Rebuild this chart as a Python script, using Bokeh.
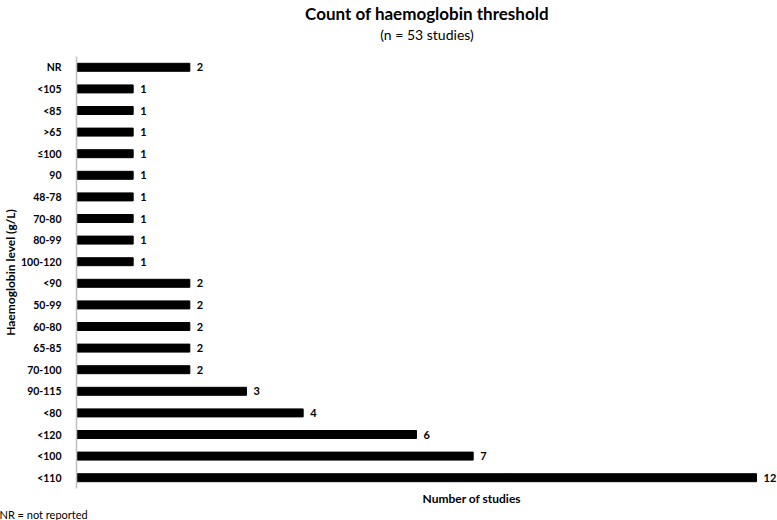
from bokeh.plotting import figure
from bokeh.models import ColumnDataSource, FactorRange, Range1d, Title
from bokeh.core.properties import value
from bokeh.embed import file_html
from bokeh.resources import INLINE

categories = ["NR", "<105", "<85", ">65", "≤100", "90", "48-78", "70-80", "80-99", "100-120",
              "<90", "50-99", "60-80", "65-85", "70-100", "90-115", "<80", "<120", "<100", "<110"]
counts = [2, 1, 1, 1, 1, 1, 1, 1, 1, 1, 2, 2, 2, 2, 2, 3, 4, 6, 7, 12]

title_text = "Count of haemoglobin threshold"
subtitle_text = "(n = 53 studies)"
x_title = "Number of studies"
y_title = "Haemoglobin level (g/L)"
note_text = "NR = not reported"

FONT = "Lato"
factors = categories[::-1]
src = ColumnDataSource(dict(cat=categories, n=counts, lbl=[str(c) for c in counts]))

p = figure(width=777, height=520, y_range=FactorRange(factors=factors),
           x_range=Range1d(0, 12.37), output_backend="svg", toolbar_location=None,
           min_border_left=75, min_border_right=0, min_border_top=54, min_border_bottom=24)
p.hbar(y="cat", right="n", left=0, height=0.37, source=src, color="black")
p.text(x="n", y="cat", text="lbl", source=src, x_offset=7, text_baseline="middle",
       text_font=value(FONT), text_font_style="bold", text_font_size="11px", text_color="black")

p.outline_line_color = None
p.grid.visible = False
p.xaxis.visible = False
ax = p.yaxis[0]
ax.axis_line_color = "#c0c0c0"
ax.axis_line_width = 1.5
ax.major_tick_line_color = None
ax.minor_tick_line_color = None
ax.major_label_text_font = FONT
ax.major_label_text_font_style = "bold"
ax.major_label_text_font_size = "10.5px"
ax.major_label_text_color = "black"
ax.major_label_standoff = 9
ax.axis_label = y_title
ax.axis_label_text_font = FONT
ax.axis_label_text_font_style = "bold"
ax.axis_label_text_font_size = "12px"
ax.axis_label_text_color = "black"
ax.axis_label_standoff = 0

# above: first added sits closest to the frame (an empty spacer first)
p.add_layout(Title(text=" ", text_font_size="2px", standoff=10), "above")
p.add_layout(Title(text=subtitle_text, align="center", text_font=FONT,
                   text_font_style="normal", text_font_size="14px", text_color="black",
                   standoff=0), "above")
p.add_layout(Title(text=title_text, align="center", text_font=FONT, text_font_style="bold",
                   text_font_size="17px", text_color="black", standoff=0), "above")
# below
p.add_layout(Title(text=x_title, align="left", offset=346, text_font=FONT, text_font_style="bold",
                   text_font_size="12px", text_color="black", standoff=0), "below")
p.add_layout(Title(text=note_text, align="left", offset=-77, text_font=FONT, text_font_style="normal",
                   text_font_size="11px", text_color="black", standoff=0), "below")

open("out.html", "w").write(file_html(p, INLINE))
